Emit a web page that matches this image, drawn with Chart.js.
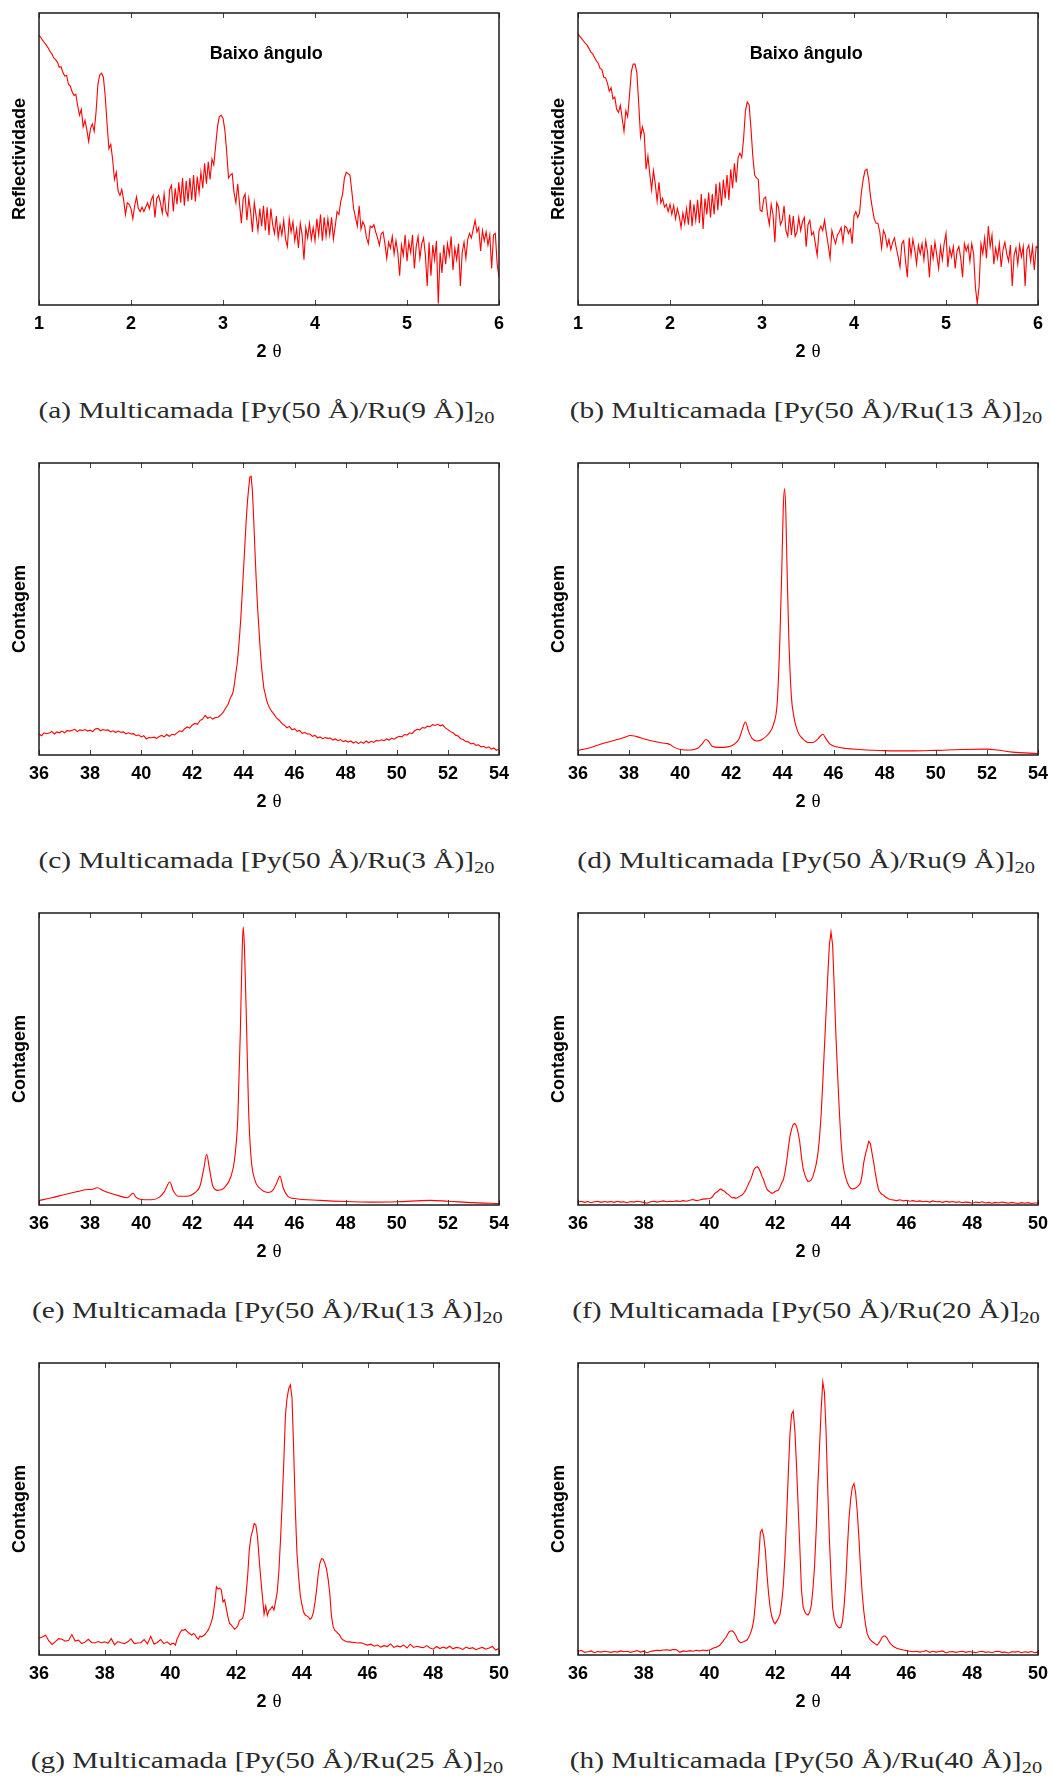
<!DOCTYPE html>
<html lang="pt">
<head>
<meta charset="utf-8">
<title>Difração de raios X - multicamadas Py/Ru</title>
<script src="https://cdn.jsdelivr.net/npm/chart.js@4.4.1/dist/chart.umd.min.js"></script>
<style>
    html, body { margin: 0; padding: 0; background: #fff; }
    #page { position: relative; width: 1053px; height: 1778px; overflow: hidden; }
    .panel { position: absolute; width: 520px; height: 370px; }
    .panel canvas { display: block; }
    .caption {
        position: absolute;
        width: 540px;
        text-align: center;
        font-family: "Liberation Serif", "Times New Roman", serif;
        font-size: 23px;
        line-height: 30px;
        color: #2a2a2a;
        white-space: nowrap;
    }
    .caption span { display: inline-block; transform-origin: 50% 50%; }
    .caption sub { font-size: 16px; vertical-align: -5px; line-height: 0; }
</style>
</head>
<body>
<div id="page">
    <div class="panel" style="left:0;top:0"><canvas id="chart-a" width="520" height="370"></canvas></div>
    <div class="panel" style="left:539px;top:0"><canvas id="chart-b" width="520" height="370"></canvas></div>
    <div class="panel" style="left:0;top:450px"><canvas id="chart-c" width="520" height="370"></canvas></div>
    <div class="panel" style="left:539px;top:450px"><canvas id="chart-d" width="520" height="370"></canvas></div>
    <div class="panel" style="left:0;top:900px"><canvas id="chart-e" width="520" height="370"></canvas></div>
    <div class="panel" style="left:539px;top:900px"><canvas id="chart-f" width="520" height="370"></canvas></div>
    <div class="panel" style="left:0;top:1350px"><canvas id="chart-g" width="520" height="370"></canvas></div>
    <div class="panel" style="left:539px;top:1350px"><canvas id="chart-h" width="520" height="370"></canvas></div>

    <div class="caption" style="left:-3px;top:396px"><span>(a) Multicamada [Py(50 Å)/Ru(9 Å)]<sub>20</sub></span></div>
    <div class="caption" style="left:536px;top:396px"><span>(b) Multicamada [Py(50 Å)/Ru(13 Å)]<sub>20</sub></span></div>
    <div class="caption" style="left:-3px;top:846px"><span>(c) Multicamada [Py(50 Å)/Ru(3 Å)]<sub>20</sub></span></div>
    <div class="caption" style="left:536px;top:846px"><span>(d) Multicamada [Py(50 Å)/Ru(9 Å)]<sub>20</sub></span></div>
    <div class="caption" style="left:-3px;top:1296px"><span>(e) Multicamada [Py(50 Å)/Ru(13 Å)]<sub>20</sub></span></div>
    <div class="caption" style="left:536px;top:1296px"><span>(f) Multicamada [Py(50 Å)/Ru(20 Å)]<sub>20</sub></span></div>
    <div class="caption" style="left:-3px;top:1746px"><span>(g) Multicamada [Py(50 Å)/Ru(25 Å)]<sub>20</sub></span></div>
    <div class="caption" style="left:536px;top:1746px"><span>(h) Multicamada [Py(50 Å)/Ru(40 Å)]<sub>20</sub></span></div>
</div>

<script>
// Scan positions (2θ) are evenly stepped; intensities are in arbitrary units (0-100).
function grid(from, to, step) {
    const n = Math.round((to - from) / step) + 1;
    return Array.from({ length: n }, (_, i) => +(from + i * step).toFixed(3));
}

// ---- low angle reflectivity, 1 to 6 deg, step 0.02 ----
const lowAngle = grid(1, 6, 0.02);

const aReflect = [
    92.4, 91.6, 90.6, 89.8, 89.0, 88.0, 86.8, 86.0, 84.6, 84.0,   // 1.00
    83.2, 81.4, 81.6, 79.6, 78.4, 78.6, 75.6, 75.0, 73.0, 71.8,   // 1.20
    72.2, 68.4, 65.0, 67.0, 61.0, 63.2, 60.0, 56.0, 60.5, 62.0,   // 1.40
    59.5, 66.0, 75.5, 78.8, 79.4, 78.0, 71.5, 62.0, 53.5, 55.0,   // 1.60
    50.0, 43.0, 45.5, 39.0, 37.5, 39.5, 36.0, 31.0, 35.0, 34.5,   // 1.80
    33.0, 29.5, 34.0, 37.0, 33.0, 32.0, 33.5, 32.0, 33.5, 35.0,   // 2.00
    33.0, 36.0, 37.5, 30.0, 36.5, 37.5, 35.0, 31.5, 38.0, 32.0,   // 2.20
    30.5, 39.5, 41.0, 32.0, 40.0, 34.5, 42.0, 35.0, 43.5, 34.0,   // 2.40
    42.5, 35.5, 43.5, 36.0, 44.5, 35.5, 44.0, 38.5, 45.5, 40.0,   // 2.60
    48.5, 41.5, 49.0, 43.0, 50.0, 48.0, 54.5, 61.0, 64.5, 65.0,   // 2.80
    64.0, 60.0, 52.5, 43.5, 44.5, 45.0, 38.5, 35.0, 41.5, 34.5,   // 3.00
    28.0, 36.5, 38.0, 29.0, 36.5, 32.0, 25.0, 35.0, 30.5, 25.5,   // 3.20
    33.0, 27.0, 34.0, 25.5, 33.5, 24.0, 33.0, 27.5, 24.5, 30.5,   // 3.40
    23.0, 27.5, 24.0, 29.0, 22.5, 20.0, 29.5, 25.0, 28.5, 22.0,   // 3.60
    26.0, 19.5, 28.0, 24.0, 15.5, 26.5, 23.0, 28.0, 22.5, 26.5,   // 3.80
    22.0, 29.5, 24.0, 31.0, 22.0, 30.0, 23.5, 29.5, 24.0, 30.0,   // 4.00
    22.5, 27.0, 32.0, 31.0, 35.5, 38.0, 43.5, 45.5, 45.0, 44.5,   // 4.20
    39.0, 33.0, 30.0, 27.0, 34.0, 26.0, 28.5, 27.0, 23.0, 21.0,   // 4.40
    27.0, 26.5, 27.5, 25.0, 23.0, 20.5, 24.5, 25.0, 21.0, 16.0,   // 4.60
    21.5, 19.5, 23.5, 17.5, 22.0, 18.0, 10.0, 20.5, 17.0, 24.0,   // 4.80
    15.0, 21.5, 18.0, 24.0, 12.5, 20.0, 23.5, 16.0, 21.0, 23.0,   // 5.00
    17.0, 6.5, 21.5, 10.0, 20.5, 15.5, 22.0, 0.5, 18.0, 11.0,     // 5.20
    20.5, 14.0, 21.0, 17.0, 23.5, 12.0, 19.5, 15.5, 21.0, 6.5,    // 5.40
    18.0, 21.5, 16.0, 22.5, 24.5, 23.0, 26.0, 29.0, 25.0, 26.5,   // 5.60
    18.5, 25.5, 22.0, 25.0, 20.5, 24.0, 12.5, 24.0, 24.5, 14.0,   // 5.80
    9.5                                                           // 6.00
];

const bReflect = [
    92.9, 92.0, 91.2, 90.4, 89.6, 89.0, 87.8, 86.6, 86.0, 84.8,   // 1.00
    83.6, 82.8, 81.0, 80.6, 78.0, 77.8, 76.0, 73.2, 74.4, 70.6,   // 1.20
    71.2, 67.0, 66.0, 68.4, 64.0, 59.5, 66.5, 64.5, 72.0, 80.0,   // 1.40
    82.5, 82.5, 79.5, 69.0, 57.5, 61.0, 58.5, 46.5, 51.0, 45.0,   // 1.60
    39.5, 46.0, 41.5, 35.5, 42.0, 35.0, 36.5, 33.5, 34.5, 32.0,   // 1.80
    34.5, 31.0, 34.0, 29.5, 33.0, 30.5, 26.5, 31.5, 28.0, 33.0,   // 2.00
    27.5, 36.0, 27.0, 34.5, 29.0, 36.0, 28.0, 38.0, 26.0, 36.5,   // 2.20
    31.0, 38.5, 30.0, 38.0, 31.0, 41.5, 32.5, 42.0, 34.0, 43.0,   // 2.40
    36.5, 44.5, 36.0, 46.5, 40.0, 48.5, 42.0, 50.5, 52.0, 50.5,   // 2.60
    57.0, 66.5, 69.5, 68.5, 60.5, 51.0, 44.5, 43.5, 43.0, 32.5,   // 2.80
    32.0, 36.5, 37.0, 31.0, 27.5, 34.5, 31.0, 21.5, 35.0, 33.5,   // 3.00
    27.5, 29.0, 34.0, 25.5, 23.5, 31.0, 24.0, 30.5, 23.5, 25.0,   // 3.20
    30.0, 25.5, 28.5, 30.0, 20.0, 27.5, 29.0, 24.0, 25.0, 21.0,   // 3.40
    17.0, 25.5, 27.0, 25.5, 29.0, 24.5, 20.5, 16.0, 25.5, 23.0,   // 3.60
    21.0, 24.0, 25.0, 26.5, 21.5, 27.0, 26.5, 24.5, 26.0, 21.0,   // 3.80
    30.5, 32.0, 30.0, 31.5, 38.5, 43.0, 46.0, 46.5, 43.0, 37.0,   // 4.00
    33.0, 29.5, 28.0, 28.0, 25.0, 19.5, 25.5, 24.0, 20.0, 22.5,   // 4.20
    19.0, 21.5, 23.0, 19.5, 16.5, 13.0, 21.0, 22.0, 15.0, 9.5,    // 4.40
    23.0, 17.0, 22.5, 19.0, 14.0, 20.5, 17.5, 21.0, 15.5, 22.0,   // 4.60
    18.0, 9.5, 20.5, 16.0, 21.5, 17.0, 12.5, 20.0, 15.5, 21.0,    // 4.80
    24.5, 13.0, 19.5, 16.5, 20.0, 12.5, 18.5, 20.0, 16.0, 9.5,    // 5.00
    21.0, 18.5, 20.5, 15.0, 21.0, 17.5, 6.0, 0.5, 6.5, 21.0,      // 5.20
    17.5, 23.0, 16.0, 27.0, 20.0, 24.0, 14.0, 19.5, 16.0, 21.0,   // 5.40
    13.0, 19.0, 21.5, 17.5, 15.0, 20.5, 6.5, 17.0, 19.5, 14.0,    // 5.60
    20.5, 16.5, 20.0, 6.5, 19.0, 20.5, 15.0, 20.0, 12.0, 20.0,    // 5.80
    19.5                                                          // 6.00
];

// ---- Ru(3 Å): 36-54 deg, finer step over the Py(111) peak ----
const cAngle = [...grid(36, 43.5, 0.1), ...grid(43.55, 45, 0.05), ...grid(45.1, 54, 0.1)];
const cCount = [
    7.2, 6.6, 7.6, 7.3, 7.5, 8.1, 7.2, 7.9, 7.6, 8.2,         // 36.0
    7.6, 8.4, 8.2, 8.5, 8.8, 8.0, 8.6, 8.4, 8.7, 8.2,         // 37.0
    8.5, 8.0, 8.9, 9.1, 8.3, 8.7, 8.5, 8.6, 7.9, 8.3,         // 38.0
    7.7, 8.2, 7.8, 7.9, 7.2, 7.6, 7.2, 7.3, 6.6, 6.9,         // 39.0
    6.2, 6.6, 5.5, 6.0, 5.9, 6.1, 5.7, 6.3, 6.7, 6.2,         // 40.0
    7.0, 6.4, 7.1, 6.9, 7.6, 8.3, 8.0, 9.0, 9.6, 9.2,         // 41.0
    10.3, 10.8, 10.5, 11.8, 12.3, 13.6, 12.6, 13.0, 12.3, 12.8, // 42.0
    12.9, 13.6, 14.5, 16.0, 17.4, 19.8,                       // 43.0
    20.5, 21.8, 24.5, 28.0, 31.0, 35.5, 41.0, 47.3, 55.0, 63.0, // 43.55
    71.0, 79.2, 86.0, 91.0, 95.2, 95.5, 90.6, 81.0, 70.0, 59.9, // 44.05
    51.0, 44.0, 37.0, 31.0, 26.5, 22.8, 21.0, 19.0, 17.6, 16.5, // 44.55
    15.0, 13.9, 12.6, 11.9, 10.8, 10.2, 9.3, 9.8, 8.6, 9.0,   // 45.1
    8.1, 8.4, 7.4, 7.7, 7.2, 7.2, 6.4, 6.7, 5.9, 6.2,         // 46.1
    5.6, 6.0, 5.7, 5.8, 5.1, 5.5, 4.9, 5.3, 4.6, 4.9,         // 47.1
    4.4, 4.8, 4.1, 4.6, 3.9, 4.5, 4.0, 4.8, 4.2, 4.7,         // 48.1
    4.3, 5.0, 4.8, 5.2, 4.9, 5.5, 5.1, 5.8, 5.4, 6.0,         // 49.1
    6.4, 6.2, 7.0, 6.8, 7.6, 7.3, 8.3, 8.8, 8.6, 9.4,         // 50.1
    9.2, 9.9, 9.7, 10.4, 10.1, 10.5, 10.0, 10.3, 9.3, 8.7,    // 51.1
    8.0, 7.6, 6.8, 6.5, 5.6, 5.3, 4.6, 4.5, 3.8, 4.0,         // 52.1
    3.3, 3.5, 2.8, 3.0, 2.4, 2.8, 2.0, 2.4, 1.6, 2.0          // 53.1
];

// ---- Ru(9 Å) and Ru(13 Å): smooth scans, sampled at the turning points ----
const dAngle = [36.0, 36.5, 37.0, 37.5, 37.8, 38.05, 38.3, 38.6, 39.0, 39.3, 39.5, 39.6, 39.75, 40.0, 40.4,
    40.7, 40.85, 41.0, 41.1, 41.25, 41.5, 41.8, 42.1, 42.3, 42.42, 42.55, 42.68, 42.81, 43.0, 43.2,
    43.45, 43.65, 43.8, 43.9, 43.97, 44.03, 44.08, 44.13, 44.18, 44.25, 44.35, 44.45, 44.6, 44.8, 45.0,
    45.2, 45.4, 45.5, 45.58, 45.7, 45.85, 46.1, 46.5, 47.0, 48.0, 49.0, 50.0, 51.0, 52.0, 52.4, 53.0, 54.0];
const dCount = [1.5, 2.6, 4.0, 5.2, 6.0, 6.7, 6.3, 5.5, 4.6, 4.1, 3.9, 3.6, 2.7, 1.9, 1.7,
    2.4, 3.7, 5.3, 4.8, 3.0, 2.6, 2.7, 3.6, 5.5, 8.5, 11.3, 8.0, 5.7, 4.8, 5.3,
    7.2, 10.5, 18.5, 40.0, 62.0, 84.0, 91.2, 84.0, 64.0, 40.0, 20.0, 13.0, 8.0, 5.5, 4.3,
    4.3, 5.6, 6.6, 7.1, 5.6, 3.8, 2.8, 2.2, 1.9, 1.5, 1.4, 1.6, 1.9, 2.0, 1.7, 1.0, 0.5];

const eAngle = [36.0, 36.5, 37.0, 37.5, 37.8, 38.1, 38.28, 38.5, 38.8, 39.1, 39.45, 39.68, 39.8, 40.0,
    40.4, 40.7, 40.9, 41.12, 41.25, 41.45, 41.8, 42.1, 42.3, 42.45, 42.56, 42.66, 42.8, 43.0, 43.25,
    43.5, 43.65, 43.78, 43.88, 43.95, 43.99, 44.04, 44.12, 44.2, 44.3, 44.45, 44.7, 44.95, 45.15,
    45.3, 45.43, 45.55, 45.75, 46.0, 47.0, 48.0, 49.0, 50.0, 51.3, 52.0, 53.0, 54.0];
const eCount = [1.5, 2.5, 3.6, 4.6, 5.2, 5.4, 5.9, 5.0, 4.0, 3.2, 2.5, 4.0, 2.6, 1.9,
    1.8, 2.6, 4.5, 7.9, 5.0, 3.0, 3.0, 4.2, 6.5, 12.5, 17.4, 13.0, 6.5, 5.0, 5.9,
    9.5, 15.5, 30.0, 60.0, 87.0, 95.2, 88.0, 62.0, 33.0, 16.0, 8.5, 5.3, 4.3, 5.0,
    7.5, 9.9, 6.0, 2.9, 2.2, 1.6, 1.2, 1.0, 1.1, 1.6, 1.3, 0.8, 0.5];

// ---- Ru(20/25/40 Å): 36-50 deg, finer step across the satellite peaks ----
const narrowAngle = [...grid(36, 39.9, 0.1), ...grid(40, 45.5, 0.05), ...grid(45.6, 50, 0.1)];

const fCount = [
    1.0, 1.3, 0.9, 1.2, 0.8, 1.1, 1.3, 0.9, 1.2, 1.0,         // 36.0
    1.2, 0.9, 1.3, 1.0, 1.1, 0.8, 1.2, 1.0, 1.3, 1.1,         // 37.0
    0.9, 0.6, 1.1, 1.3, 1.0, 1.2, 1.4, 1.1, 1.3, 1.2,         // 38.0
    1.4, 1.2, 1.5, 1.3, 1.6, 1.9, 1.5, 1.7, 2.0, 2.1,         // 39.0
    2.2, 2.4, 2.9, 3.8, 4.3, 4.6, 5.2, 5.5, 5.0, 4.8,         // 40.00
    4.2, 3.8, 3.4, 2.8, 2.4, 2.6, 2.3, 2.5, 2.8, 3.2,         // 40.50
    3.5, 4.2, 5.0, 6.3, 7.5, 8.6, 10.2, 12.0, 12.8, 13.1,     // 41.00
    12.6, 11.4, 9.8, 8.6, 6.8, 5.4, 4.8, 4.4, 4.0, 4.2,       // 41.50
    4.6, 4.9, 5.1, 6.2, 7.6, 8.6, 11.2, 14.8, 19.5, 23.5,     // 42.00
    26.0, 27.6, 27.9, 27.0, 24.8, 21.5, 16.5, 12.5, 10.5, 9.0, // 42.50
    8.0, 8.2, 8.6, 9.8, 11.8, 14.0, 17.5, 23.0, 31.0, 42.0,   // 43.00
    54.0, 66.0, 78.0, 89.0, 93.5, 89.0, 74.0, 58.0, 45.0, 33.0, // 43.50
    22.5, 15.5, 11.5, 9.4, 7.6, 6.4, 5.7, 5.5, 5.6, 5.8,      // 44.00
    6.2, 6.8, 7.6, 10.5, 14.8, 17.5, 19.5, 21.8, 21.0, 17.7,  // 44.50
    14.5, 10.8, 7.6, 5.1, 4.2, 3.7, 3.4, 2.8, 2.5, 2.1,       // 45.00
    1.9,                                                      // 45.50
    1.7, 1.5, 1.8, 1.4, 1.6, 1.3, 1.5, 1.2, 1.4, 1.1,         // 45.6
    1.3, 1.0, 1.4, 1.1, 1.2, 0.9, 1.3, 1.0, 1.2, 0.9,         // 46.6
    1.1, 0.8, 1.0, 0.9, 0.6, 1.0, 0.8, 1.1, 0.7, 0.9,         // 47.6
    0.6, 0.9, 0.7, 1.0, 0.8, 0.6, 0.9, 0.7, 0.5, 0.8,         // 48.6
    0.6, 0.8, 0.5, 0.7, 0.7                                   // 49.6
];

const gCount = [
    5.7, 6.2, 6.8, 4.8, 3.6, 4.6, 5.6, 5.4, 4.7, 5.0,         // 36.0
    7.0, 4.8, 5.1, 3.9, 4.4, 5.4, 4.3, 4.1, 4.6, 4.2,         // 37.0
    4.5, 4.0, 5.6, 3.5, 4.6, 4.2, 3.9, 4.5, 5.5, 3.9,         // 38.0
    4.1, 4.2, 5.3, 3.8, 6.4, 3.8, 4.3, 5.3, 3.9, 4.5,         // 39.0
    3.5, 3.9, 4.0, 3.4, 5.4, 6.6, 7.8, 8.6, 8.4, 8.8,         // 40.00
    8.2, 7.6, 7.2, 6.8, 7.4, 6.9, 5.9, 5.4, 6.5, 6.2,         // 40.50
    6.6, 7.0, 7.8, 8.6, 9.8, 11.4, 13.8, 18.0, 23.4, 22.6,    // 41.00
    22.9, 22.3, 18.2, 18.9, 16.0, 13.0, 10.8, 10.3, 9.6, 8.8, // 41.50
    9.3, 10.0, 11.8, 12.2, 12.6, 15.0, 20.5, 27.0, 36.0, 40.5, // 42.00
    42.6, 45.0, 44.5, 40.5, 33.0, 26.0, 20.0, 14.0, 16.8, 13.5, // 42.50
    15.2, 15.8, 16.6, 15.4, 18.3, 21.5, 28.5, 39.3, 52.0, 66.0, // 43.00
    82.0, 88.0, 91.2, 92.5, 88.0, 70.5, 50.5, 35.0, 27.0, 20.5, // 43.50
    17.3, 14.8, 13.7, 13.4, 13.0, 12.2, 12.8, 14.6, 18.0, 22.5, // 44.00
    27.9, 31.5, 33.0, 32.8, 31.4, 29.5, 26.0, 21.1, 13.5, 9.8, // 44.50
    8.5, 8.0, 7.4, 6.8, 5.7, 5.2, 4.9, 4.6, 4.5, 4.5,         // 45.00
    4.4,                                                      // 45.50
    4.3, 4.1, 4.2, 3.8, 3.4, 3.7, 3.0, 3.4, 2.7, 3.2,         // 45.6
    2.9, 3.8, 2.6, 3.1, 2.8, 3.4, 2.4, 3.7, 2.6, 3.0,         // 46.6
    2.7, 2.5, 3.2, 2.4, 2.0, 2.9, 2.2, 2.7, 2.3, 3.0,         // 47.6
    2.1, 2.6, 2.4, 1.9, 2.7, 2.2, 2.5, 1.8, 2.3, 2.6,         // 48.6
    2.0, 2.4, 2.9, 1.7, 2.2                                   // 49.6
];

const hCount = [
    1.2, 1.6, 0.9, 1.1, 1.4, 0.8, 1.2, 1.0, 1.3, 1.1,         // 36.0
    0.9, 1.2, 1.0, 1.4, 1.1, 1.3, 0.9, 1.2, 1.5, 1.0,         // 37.0
    1.3, 0.8, 1.2, 1.4, 1.6, 1.5, 1.7, 1.8, 1.6, 1.9,         // 38.0
    1.8, 0.9, 1.4, 1.2, 1.5, 1.3, 1.6, 1.4, 1.7, 1.5,         // 39.0
    1.7, 1.9, 2.3, 2.5, 2.6, 3.0, 3.2, 3.8, 4.5, 5.3,         // 40.00
    6.0, 7.0, 8.0, 8.2, 8.3, 7.7, 6.8, 5.5, 4.6, 4.2,         // 40.50
    4.4, 4.6, 4.9, 5.2, 6.2, 7.4, 9.2, 12.0, 18.0, 25.5,      // 41.00
    33.0, 42.0, 43.0, 40.8, 36.0, 27.9, 21.0, 16.0, 13.1, 11.5, // 41.50
    10.7, 11.6, 12.6, 14.0, 18.0, 24.0, 34.0, 47.5, 62.0, 75.5, // 42.00
    82.5, 83.5, 77.0, 65.0, 51.0, 37.1, 22.5, 16.5, 14.8, 14.0, // 42.50
    13.7, 14.6, 17.0, 22.5, 30.5, 43.0, 58.0, 71.0, 84.0, 93.5, // 43.00
    90.0, 76.5, 57.0, 40.0, 27.0, 16.0, 12.3, 10.6, 9.8, 9.3, // 43.50
    9.5, 11.5, 17.0, 25.0, 37.0, 47.0, 53.5, 57.6, 58.7, 55.5, // 44.00
    49.0, 40.0, 29.5, 21.0, 14.8, 10.5, 7.4, 6.0, 5.2, 4.6,   // 44.50
    4.2, 3.8, 3.4, 4.0, 4.9, 6.0, 6.5, 6.5, 5.9, 4.9,         // 45.00
    4.0,                                                      // 45.50
    2.9, 2.3, 2.0, 1.7, 1.5, 1.3, 1.1, 1.3, 1.0, 1.2,         // 45.6
    1.5, 0.9, 1.3, 1.0, 1.2, 1.4, 0.7, 1.1, 1.2, 0.9,         // 46.6
    1.1, 1.3, 0.9, 1.2, 1.0, 0.8, 1.1, 1.3, 0.9, 1.1,         // 47.6
    0.8, 1.2, 1.3, 0.9, 1.0, 0.7, 1.1, 1.0, 1.2, 0.8,         // 48.6
    1.1, 0.9, 1.2, 0.8, 1.0                                   // 49.6
];

const SANS = '"Liberation Sans", Arial, Helvetica, sans-serif';
const SERIF = '"Liberation Serif", "Times New Roman", serif';
Chart.defaults.font.family = SANS;
Chart.defaults.color = '#000';

// Box frame, inward x ticks (bottom and mirrored top), the "2 θ" axis label
// (bold digit, serif theta) and an optional note inside the plot.
const framePlugin = {
    id: 'frame',
    afterDatasetsDraw(chart, args, opts) {
        const { ctx, chartArea: area, scales: { x, y } } = chart;
        ctx.save();
        ctx.strokeStyle = '#444';
        ctx.lineWidth = 1;
        x.ticks.forEach(tick => {
            const px = Math.round(x.getPixelForValue(tick.value)) + 0.5;
            ctx.beginPath();
            ctx.moveTo(px, area.bottom);
            ctx.lineTo(px, area.bottom - 5);
            ctx.moveTo(px, area.top);
            ctx.lineTo(px, area.top + 5);
            ctx.stroke();
        });
        ctx.strokeStyle = '#1a1a1a';
        ctx.lineWidth = 1.5;
        ctx.strokeRect(area.left, area.top, area.right - area.left, area.bottom - area.top);

        ctx.fillStyle = '#000';
        if (opts.note) {
            ctx.font = `bold 18px ${SANS}`;
            ctx.textAlign = 'center';
            ctx.textBaseline = 'middle';
            ctx.fillText(opts.note.text, x.getPixelForValue(opts.note.x), y.getPixelForValue(opts.note.y));
        }

        // axis label under the tick numbers
        const baseline = area.bottom + 52;
        const cx = (area.left + area.right) / 2;
        ctx.textAlign = 'left';
        ctx.textBaseline = 'alphabetic';
        ctx.font = `bold 18px ${SANS}`;
        const wDigit = ctx.measureText('2').width;
        ctx.font = `19px ${SERIF}`;
        const wTheta = ctx.measureText('θ').width;
        const gap = 6;
        const startX = cx - (wDigit + gap + wTheta) / 2;
        ctx.font = `bold 18px ${SANS}`;
        ctx.fillText('2', startX, baseline);
        ctx.font = `19px ${SERIF}`;
        ctx.fillText('θ', startX + wDigit + gap, baseline);
        ctx.restore();
    }
};

function makeChart(id, angles, counts, axis) {
    const points = angles.map((x, i) => ({ x, y: counts[i] }));
    return new Chart(document.getElementById(id), {
        type: 'line',
        data: {
            datasets: [{
                data: points,
                borderColor: '#ff0000',
                borderWidth: 1.1,
                pointRadius: 0,
                fill: false,
                tension: 0,
                cubicInterpolationMode: axis.smooth ? 'monotone' : 'default'
            }]
        },
        options: {
            responsive: false,
            animation: false,
            devicePixelRatio: 1,
            layout: { padding: { top: 13, right: 21, bottom: 0, left: 0 }, autoPadding: false },
            plugins: {
                legend: { display: false },
                tooltip: { enabled: false },
                frame: { note: axis.note || null }
            },
            scales: {
                x: {
                    type: 'linear',
                    min: axis.min,
                    max: axis.max,
                    grid: { display: false, drawTicks: false },
                    border: { display: false },
                    ticks: {
                        stepSize: axis.step,
                        autoSkip: false,
                        maxRotation: 0,
                        padding: 8,
                        color: '#000',
                        font: { size: 18, weight: 'bold' }
                    },
                    title: { display: false },
                    afterFit(scale) { scale.height = 65; }
                },
                y: {
                    min: 0,
                    max: 100,
                    grid: { display: false, drawTicks: false },
                    border: { display: false },
                    ticks: { display: false },
                    title: {
                        display: true,
                        text: axis.yTitle,
                        color: '#000',
                        font: { size: 18, weight: 'bold' },
                        padding: { top: 9, bottom: 0 }
                    },
                    afterFit(scale) { scale.width = 39; }
                }
            }
        },
        plugins: [framePlugin]
    });
}

const lowAxis = { min: 1, max: 6, step: 1, yTitle: 'Reflectividade' };
const wideAxis = { min: 36, max: 54, step: 2, yTitle: 'Contagem' };
const narrowAxis = { min: 36, max: 50, step: 2, yTitle: 'Contagem' };

makeChart('chart-a', lowAngle, aReflect, { ...lowAxis, note: { text: 'Baixo ângulo', x: 3.47, y: 86 } });
makeChart('chart-b', lowAngle, bReflect, { ...lowAxis, note: { text: 'Baixo ângulo', x: 3.48, y: 86 } });
makeChart('chart-c', cAngle, cCount, wideAxis);
makeChart('chart-d', dAngle, dCount, { ...wideAxis, smooth: true });
makeChart('chart-e', eAngle, eCount, { ...wideAxis, smooth: true });
makeChart('chart-f', narrowAngle, fCount, narrowAxis);
makeChart('chart-g', narrowAngle, gCount, narrowAxis);
makeChart('chart-h', narrowAngle, hCount, narrowAxis);

// Stretch the captions so the first one spans 456px, same factor for all.
function fitCaptions() {
    const spans = Array.from(document.querySelectorAll('.caption span'));
    const width = spans[0].getBoundingClientRect().width;
    const k = 456 / width;
    spans.forEach(span => { span.style.transform = `scaleX(${k.toFixed(3)})`; });
}
fitCaptions();
</script>
</body>
</html>
